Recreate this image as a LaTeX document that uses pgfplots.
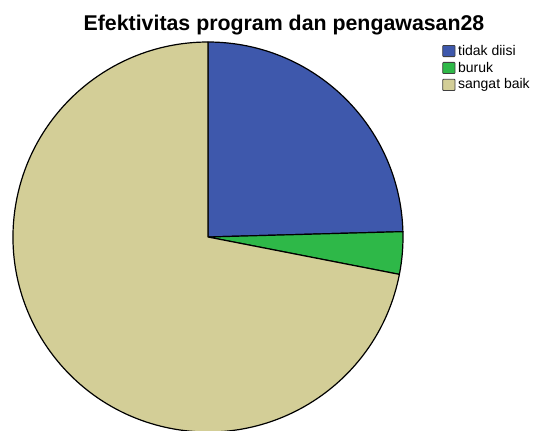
\documentclass[border=0pt]{standalone}
\usepackage{pgfplots}
\usepackage{pgfplotstable}
\pgfplotsset{compat=1.18}
\usepackage{fontspec}
\setmainfont{Liberation Sans}
\definecolor{cblue}{HTML}{3E58AC}
\definecolor{cgreen}{HTML}{2EB848}
\definecolor{cbeige}{HTML}{D3CE97}
\pgfplotstableread{
category count
tidak 14
buruk 2
sangat 41
}\piedata
\begin{document}
\begin{tikzpicture}
\useasboundingbox (0pt,0pt) rectangle (403.5pt,322.5pt);
\clip (0pt,0pt) rectangle (403.5pt,322.5pt);
\pgfplotstablegetelem{0}{count}\of\piedata \let\nA\pgfplotsretval
\pgfplotstablegetelem{1}{count}\of\piedata \let\nB\pgfplotsretval
\pgfplotstablegetelem{2}{count}\of\piedata \let\nC\pgfplotsretval
\pgfmathsetmacro\tot{\nA+\nB+\nC}
\pgfmathsetmacro\aA{90}
\pgfmathsetmacro\aB{90-360*\nA/\tot}
\pgfmathsetmacro\aC{\aB-360*\nB/\tot}
\pgfmathsetmacro\aD{-270}
\begin{axis}[
  at={(156pt,144.75pt)}, anchor=center,
  scale only axis, width=292.5pt, height=292.5pt,
  xmin=-1, xmax=1, ymin=-1, ymax=1,
  hide axis, clip=false,
  legend style={at={(1.10,1.0)}, anchor=north west, draw=none, fill=none,
    font=\fontsize{10.5}{12}\selectfont, row sep=-0.4pt, inner sep=0pt,
    cells={anchor=west},
    /tikz/every even column/.append style={column sep=3pt}},
  legend image code/.code={\draw[#1,draw=black!75,line width=0.6pt,rounded corners=0.6pt] (0pt,-4.2pt) rectangle (9.3pt,4.2pt);},
]
\addlegendimage{fill=cblue}\addlegendentry{tidak diisi}
\addlegendimage{fill=cgreen}\addlegendentry{buruk}
\addlegendimage{fill=cbeige}\addlegendentry{sangat baik}
\filldraw[fill=cblue, draw=black, line width=0.9pt, line join=round] (axis cs:0,0) -- ++(\aA:146.25pt) arc[start angle=\aA, end angle=\aB, radius=146.25pt] -- cycle;
\filldraw[fill=cgreen, draw=black, line width=0.9pt, line join=round] (axis cs:0,0) -- ++(\aB:146.25pt) arc[start angle=\aB, end angle=\aC, radius=146.25pt] -- cycle;
\filldraw[fill=cbeige, draw=black, line width=0.9pt, line join=round] (axis cs:0,0) -- ++(\aC:146.25pt) arc[start angle=\aC, end angle=\aD, radius=146.25pt] -- cycle;
\end{axis}
\node[anchor=base, inner sep=0pt, font=\bfseries\fontsize{16}{19}\selectfont] at (213pt,300pt) {Efektivitas program dan pengawasan28};
\end{tikzpicture}
\end{document}
